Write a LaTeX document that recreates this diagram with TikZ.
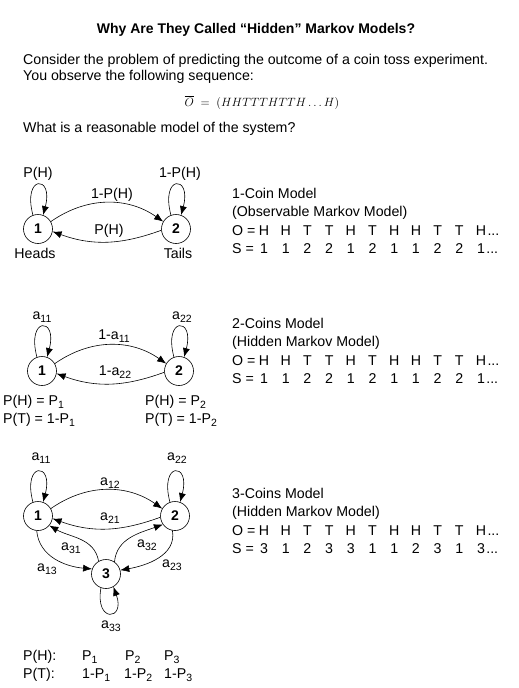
\documentclass[tikz,border=0pt]{standalone}
\usepackage{fontspec}
\setmainfont{Liberation Sans}
\usepackage{tikz}
\usetikzlibrary{arrows.meta,calc,positioning}
\newcommand{\lowsub}[1]{\raisebox{-3pt}{\fontsize{10.5}{12}\selectfont #1}}

\begin{document}
\begin{tikzpicture}[x=1pt,y=1pt,
  every node/.style={font=\fontsize{14.2}{17}\selectfont},
  txt/.style={anchor=base west,inner sep=0pt},
  lbl/.style={inner sep=0pt},
  state/.style={circle,draw,line width=0.6pt,minimum size=29pt,inner sep=0pt,font=\fontsize{14}{17}\selectfont\bfseries},
  arr/.style={line width=0.6pt,-{Latex[length=9pt,width=7pt]}}]
\useasboundingbox (0,0) rectangle (519,-688);

% heading and question
\node[anchor=base,inner sep=0pt,font=\fontsize{14}{17}\selectfont\bfseries] (title) at (256,-33) {Why Are They Called “Hidden” Markov Models?};
\node[txt] (intro1) at (23,-64) {Consider the problem of predicting the outcome of a coin toss experiment.};
\node[txt] (intro2) at (23,-80) {You observe the following sequence:};
\node[anchor=base,inner sep=0pt,font=\fontsize{13}{16}\selectfont] (obs) at (262,-106) {$\overline{O}\;=\;(HHTTTHTTH\ldots H)$};
\node[txt] (question) at (23,-132) {What is a reasonable model of the system?};

% 1-coin model
\node[state] (a1) at (38,-229) {1};
\node[state] (a2) at (176,-229) {2};
\draw[arr] (a1.110) .. controls +(105:42) and +(75:42) .. (a1.70);
\draw[arr] (a2.110) .. controls +(105:42) and +(75:42) .. (a2.70);
\draw[arr] (a1.30) to[out=35,in=145] (a2.150);
\draw[arr] (a2.185) to[out=200,in=-20] (a1.-10);
\node[lbl] (a1loop) at (38,-174) {P(H)};
\node[lbl] (a2loop) at (180,-174) {1-P(H)};
\node[lbl] (a12) at (112,-195) {1-P(H)};
\node[lbl] (a21) at (109,-231) {P(H)};
\node[lbl] (heads) at (35,-253) {Heads};
\node[lbl] (tails) at (178,-253) {Tails};

\node[txt] (m1name) at (232,-198) {1-Coin Model};
\node[txt] (m1kind) at (232,-216.5) {(Observable Markov Model)};
\node[txt] (m1o) at (232,-235) {O =};
\foreach \c [count=\i] in {H,H,T,T,H,T,H,H,T,T,H}
  \node[anchor=base,inner sep=0pt] (m1o\i) at ({264+21.7*(\i-1)},-235) {\c};
\node[txt] (m1odots) at ([xshift=1pt]m1o11.base east) {...};
\node[txt] (m1s) at (232,-253) {S =};
\foreach \c [count=\i] in {1,1,2,2,1,2,1,1,2,2,1}
  \node[anchor=base,inner sep=0pt] (m1s\i) at ({264+21.7*(\i-1)},-253) {\c};
\node[txt] (m1sdots) at ([xshift=1pt]m1s11.base east) {...};

% 2-coins model
\node[state] (b1) at (42,-371) {1};
\node[state] (b2) at (179,-371) {2};
\draw[arr] (b1.110) .. controls +(105:42) and +(75:42) .. (b1.70);
\draw[arr] (b2.110) .. controls +(105:42) and +(75:42) .. (b2.70);
\draw[arr] (b1.30) to[out=35,in=145] (b2.150);
\draw[arr] (b2.185) to[out=200,in=-20] (b1.-10);
\node[lbl] (b1loop) at (42,-317) {a\lowsub{11}};
\node[lbl] (b2loop) at (182,-317) {a\lowsub{22}};
\node[lbl] (b12) at (114,-336) {1-a\lowsub{11}};
\node[lbl] (b21) at (115,-372) {1-a\lowsub{22}};
\node[txt] (b1h) at (3,-405) {P(H) = P\lowsub{1}};
\node[txt] (b1t) at (3,-423) {P(T) = 1-P\lowsub{1}};
\node[txt] (b2h) at (145,-405) {P(H) = P\lowsub{2}};
\node[txt] (b2t) at (145,-423) {P(T) = 1-P\lowsub{2}};

\node[txt] (m2name) at (232,-328) {2-Coins Model};
\node[txt] (m2kind) at (232,-346.5) {(Hidden Markov Model)};
\node[txt] (m2o) at (232,-365) {O =};
\foreach \c [count=\i] in {H,H,T,T,H,T,H,H,T,T,H}
  \node[anchor=base,inner sep=0pt] (m2o\i) at ({264+21.7*(\i-1)},-365) {\c};
\node[txt] (m2odots) at ([xshift=1pt]m2o11.base east) {...};
\node[txt] (m2s) at (232,-383) {S =};
\foreach \c [count=\i] in {1,1,2,2,1,2,1,1,2,2,1}
  \node[anchor=base,inner sep=0pt] (m2s\i) at ({264+21.7*(\i-1)},-383) {\c};
\node[txt] (m2sdots) at ([xshift=1pt]m2s11.base east) {...};

% 3-coins model
\node[state] (c1) at (38,-516) {1};
\node[state] (c2) at (175,-516) {2};
\node[state] (c3) at (106,-574) {3};
\draw[arr] (c1.110) .. controls +(105:42) and +(75:42) .. (c1.70);
\draw[arr] (c2.110) .. controls +(105:42) and +(75:42) .. (c2.70);
\draw[arr] (c3.-110) .. controls +(-100:36) and +(-70:36) .. (c3.-60);
\draw[arr] (c1.30) to[out=35,in=145] (c2.150);
\draw[arr] (c2.185) to[out=200,in=-20] (c1.-10);
\draw[arr] (c1.-95) to[out=-85,in=175] (c3.160);
\draw[arr] (c3.120) to[out=100,in=-30] (c1.-40);
\draw[arr] (c3.55) to[out=85,in=200] (c2.215);
\draw[arr] (c2.-100) to[out=-80,in=10] (c3.15);
\node[lbl] (c1loop) at (41,-458) {a\lowsub{11}};
\node[lbl] (c2loop) at (177,-458) {a\lowsub{22}};
\node[lbl] (c3loop) at (111,-626) {a\lowsub{33}};
\node[lbl] (c12) at (110,-483) {a\lowsub{12}};
\node[lbl] (c21) at (110,-518) {a\lowsub{21}};
\node[lbl] (c31) at (71,-548) {a\lowsub{31}};
\node[lbl] (c13) at (47,-569) {a\lowsub{13}};
\node[lbl] (c32) at (147,-545) {a\lowsub{32}};
\node[lbl] (c23) at (172,-565) {a\lowsub{23}};

\node[txt] (m3name) at (232,-498) {3-Coins Model};
\node[txt] (m3kind) at (232,-516.5) {(Hidden Markov Model)};
\node[txt] (m3o) at (232,-535) {O =};
\foreach \c [count=\i] in {H,H,T,T,H,T,H,H,T,T,H}
  \node[anchor=base,inner sep=0pt] (m3o\i) at ({264+21.7*(\i-1)},-535) {\c};
\node[txt] (m3odots) at ([xshift=1pt]m3o11.base east) {...};
\node[txt] (m3s) at (232,-553) {S =};
\foreach \c [count=\i] in {3,1,2,3,3,1,1,2,3,1,3}
  \node[anchor=base,inner sep=0pt] (m3s\i) at ({264+21.7*(\i-1)},-553) {\c};
\node[txt] (m3sdots) at ([xshift=1pt]m3s11.base east) {...};

% coin biases
\node[txt] (ph) at (23,-660) {P(H):};
\node[txt] (pt) at (23,-678) {P(T):};
\node[txt] (ph1) at (82,-660) {P\lowsub{1}};
\node[txt] (ph2) at (125,-660) {P\lowsub{2}};
\node[txt] (ph3) at (164,-660) {P\lowsub{3}};
\node[txt] (pt1) at (82,-678) {1-P\lowsub{1}};
\node[txt] (pt2) at (124,-678) {1-P\lowsub{2}};
\node[txt] (pt3) at (164,-678) {1-P\lowsub{3}};
\end{tikzpicture}
\end{document}
